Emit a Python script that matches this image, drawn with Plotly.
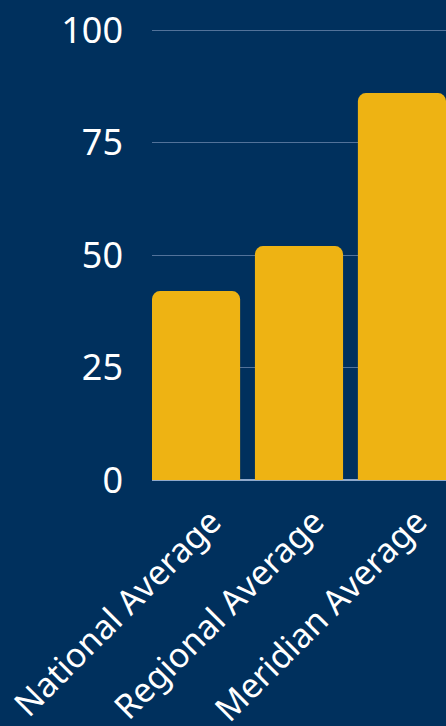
import plotly.graph_objects as go

categories = ["National Average", "Regional Average", "Meridian Average"]
values = [42, 52, 86]
y_ticks = [0, 25, 50, 75, 100]

BG = "#00305D"
BAR = "#EEB313"

fig = go.Figure(go.Bar(
    x=categories, y=values,
    marker=dict(color=BAR, line=dict(width=0)),
    hoverinfo="skip",
))

fig.update_layout(
    width=446, height=726,
    paper_bgcolor=BG, plot_bgcolor=BG,
    margin=dict(l=152, r=0, t=29, b=246),
    bargap=0.144,
    barcornerradius=8,
    showlegend=False,
    font=dict(family="Noto Sans", color="white"),
)
fig.update_xaxes(
    range=[-0.428, 2.428],
    tickangle=-45,
    tickfont=dict(size=34, color="white"),
    showgrid=False, showline=False, ticks="",
    zeroline=False,
    automargin=False,
    ticklabelstandoff=14,
    ticklabelshift=15,
)
fig.update_yaxes(
    range=[0, 100.25],
    tickvals=y_ticks,
    tickfont=dict(size=36, color="white"),
    showgrid=True, gridcolor="#52729A", gridwidth=1,
    zeroline=True, zerolinecolor="#8FA9CC", zerolinewidth=1.5,
    ticks="", ticklabelstandoff=28,
    showline=False,
    automargin=False,
)

post = ("document.body.style.margin='0';"
        "document.body.style.background='" + BG + "';"
        "document.body.style.overflow='hidden';")
fig.write_html("out.html", post_script=post, config={"displayModeBar": False})
